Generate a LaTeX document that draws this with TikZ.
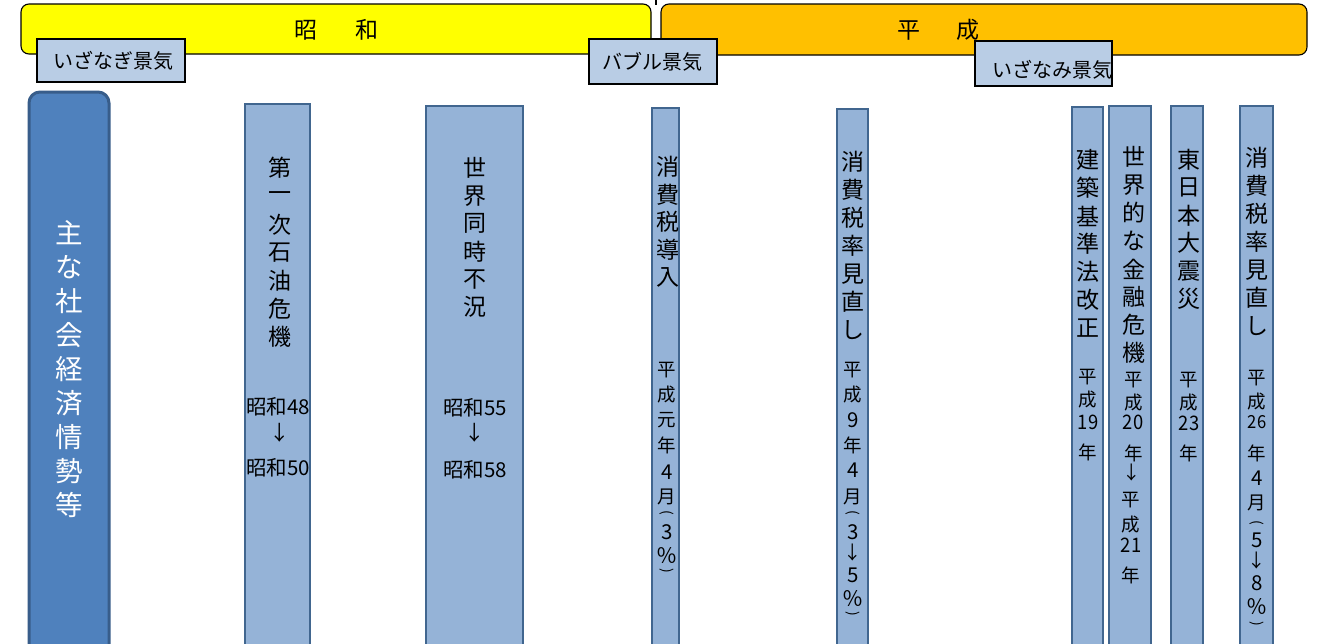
\documentclass[tikz,border=0pt]{standalone}
\usepackage{fontspec}
\setmainfont{Noto Sans CJK JP}
\definecolor{barY}{HTML}{FFFF00}
\definecolor{barO}{HTML}{FFC000}
\definecolor{lblue}{HTML}{B9CDE5}
\definecolor{mainfill}{HTML}{4F81BD}
\definecolor{mainedge}{HTML}{385D8A}
\definecolor{colfill}{HTML}{95B3D7}
\definecolor{coledge}{HTML}{41668F}
\tikzset{
  bar/.style={draw=black, line width=1.1pt, rounded corners=8pt},
  lbl/.style={draw=black, line width=1.6pt, fill=lblue, inner sep=0pt, anchor=north west},
  lbltext/.style={inner sep=0pt, font=\fontsize{20}{20}\selectfont},
  era/.style={inner sep=0pt, font=\fontsize{23}{23}\selectfont},
  colbox/.style={draw=coledge, line width=2pt, fill=colfill},
  mainbox/.style={draw=mainedge, line width=3pt, fill=mainfill, rounded corners=11pt},
  big/.style={inner sep=0pt, font=\fontsize{23}{23}\selectfont},
  hor/.style={inner sep=0pt, font=\fontsize{20.5}{20.5}\selectfont},
  sml/.style={inner sep=0pt, font=\fontsize{18.5}{18.5}\selectfont},
  dig/.style={inner sep=0pt, font=\fontsize{20.5}{20.5}\selectfont},
  pct/.style={inner sep=0pt, font=\fontsize{21}{21}\selectfont},
  par/.style={inner sep=0pt, font=\fontsize{14}{14}\selectfont},
  tcy/.style={inner sep=0pt, font=\fontsize{20}{20}\selectfont, xscale=0.92},
  tcys/.style={inner sep=0pt, font=\fontsize{18}{18}\selectfont, xscale=0.92},
  maintext/.style={inner sep=0pt, text=white, font=\fontsize{27.5}{27.5}\selectfont},
}
\begin{document}
\begin{tikzpicture}[x=1pt, y=-1pt]
\useasboundingbox[fill=white] (0,0) rectangle (1319,643);
% era bars
\draw[bar, fill=barY] (21,4) rectangle (651,54);
\draw[bar, fill=barO] (661,4) rectangle (1307,55);
\coordinate (stemtop) at (656,-1);
\coordinate (stembot) at (656,5);
\draw[line width=1.1pt] (stemtop) -- (stembot);
% label boxes
\node[lbl, minimum width=148pt, minimum height=43pt] (izanagi) at (36,38) {};
\node[lbltext] (izanagiT) at (113,61) {いざなぎ景気};
\node[lbl, minimum width=128pt, minimum height=45pt] (bubble) at (588,38) {};
\node[lbltext] (bubbleT) at (652,62) {バブル景気};
\node[lbl, minimum width=137pt, minimum height=45pt] (izanami) at (974,40) {};
\node[lbltext] (izanamiT) at (1052,70) {いざなみ景気};
% era titles
\node[era] (showa) at (336,30) {昭\hspace{38pt}和};
\node[era] (heisei) at (938,30) {平\hspace{36pt}成};
% main box
\draw[mainbox] (29,92) rectangle (109,660);
\foreach \c [count=\i from 0] in {主,な,社,会,経,済,情,勢,等}
  \node[maintext] (m\i) at (69,233+34*\i) {\c};
% columns
\draw[colbox] (245,104) rectangle (310,660);
\draw[colbox] (426,106) rectangle (523,660);
\draw[colbox] (652,108) rectangle (679,660);
\draw[colbox] (837,109) rectangle (868,660);
\draw[colbox] (1072,107) rectangle (1103,660);
\draw[colbox] (1109,106) rectangle (1151,660);
\draw[colbox] (1171,106) rectangle (1203,660);
\draw[colbox] (1240,106) rectangle (1273,660);
% column 1
\foreach \c [count=\i from 0] in {第,一,次,石,油,危,機}
  \node[big] (a\i) at (280,168+28.2*\i) {\c};
\node[hor] (a48) at (278,407) {昭和48};
\node[hor] (aar) at (280,433) {↓};
\node[hor] (a50) at (278,468) {昭和50};
% column 2
\foreach \c [count=\i from 0] in {世,界,同,時,不,況}
  \node[big] (b\i) at (475,168+27.8*\i) {\c};
\node[hor] (b55) at (475,408) {昭和55};
\node[hor] (bar) at (475,433) {↓};
\node[hor] (b58) at (475,470) {昭和58};
% column 3
\foreach \c [count=\i from 0] in {消,費,税,導,入}
  \node[big] (c\i) at (668,167+27.5*\i) {\c};
\foreach \c/\y [count=\i] in {平/370,成/395,元/420,年/445,月/497}
  \node[sml] (cs\i) at (667,\y) {\c};
\node[pct] (cpc) at (667,556) {％};
\node[dig] (c4d) at (667,472) {4};
\node[dig] (c3d) at (667,532) {3};
\node[par, rotate=-90] (cpl) at (667,513) {(};
\node[par, rotate=-90] (cpr) at (667,571) {)};
% column 4
\foreach \c [count=\i from 0] in {消,費,税,率,見,直,し}
  \node[big] (d\i) at (853,162+28*\i) {\c};
\foreach \c/\y [count=\i] in {平/370,成/395,年/445,月/497,↓/553}
  \node[sml] (ds\i) at (853,\y) {\c};
\node[pct] (dpc) at (853,599) {％};
\foreach \c/\y [count=\i] in {9/420,4/470,3/532,5/575}
  \node[dig] (dd\i) at (853,\y) {\c};
\node[par, rotate=-90] (dpl) at (853,513) {(};
\node[par, rotate=-90] (dpr) at (853,614) {)};
% column 5
\foreach \c [count=\i from 0] in {建,築,基,準,法,改,正}
  \node[big] (e\i) at (1088,160+28*\i) {\c};
\node[sml] (es1) at (1088,377) {平};
\node[sml] (es2) at (1088,400) {成};
\node[tcy] (es3) at (1088,422) {19};
\node[sml] (es4) at (1088,452) {年};
% column 6
\foreach \c [count=\i from 0] in {世,界,的,な,金,融,危,機}
  \node[big] (f\i) at (1134,157+28*\i) {\c};
\node[sml] (fs1) at (1134,380) {平};
\node[sml] (fs2) at (1134,403) {成};
\node[tcy] (fs3) at (1133,422) {20};
\node[sml] (fs4) at (1134,453) {年};
\node[sml] (fs5) at (1132,473) {↓};
\node[sml] (fs6) at (1131,500) {平};
\node[sml] (fs7) at (1131,525) {成};
\node[tcy] (fs8) at (1131,545) {21};
\node[sml] (fs9) at (1131,575) {年};
% column 7
\foreach \c [count=\i from 0] in {東,日,本,大,震,災}
  \node[big] (g\i) at (1189,160+27.7*\i) {\c};
\node[sml] (gs1) at (1189,380) {平};
\node[sml] (gs2) at (1189,403) {成};
\node[tcy] (gs3) at (1189,423) {23};
\node[sml] (gs4) at (1189,453) {年};
% column 8
\foreach \c [count=\i from 0] in {消,費,税,率,見,直,し}
  \node[big] (h\i) at (1257,158+28*\i) {\c};
\node[sml] (hs1) at (1257,378) {平};
\node[sml] (hs2) at (1257,402) {成};
\node[tcys] (hs3) at (1257,422) {26};
\foreach \c/\y [count=\i] in {年/453,月/503,↓/561}
  \node[sml] (hk\i) at (1257,\y) {\c};
\node[pct] (hpc) at (1257,607) {％};
\foreach \c/\y [count=\i] in {4/478,5/540,8/583}
  \node[dig] (hd\i) at (1257,\y) {\c};
\node[par, rotate=-90] (hpl) at (1257,523) {(};
\node[par, rotate=-90] (hpr) at (1257,624) {)};
\end{tikzpicture}
\end{document}
